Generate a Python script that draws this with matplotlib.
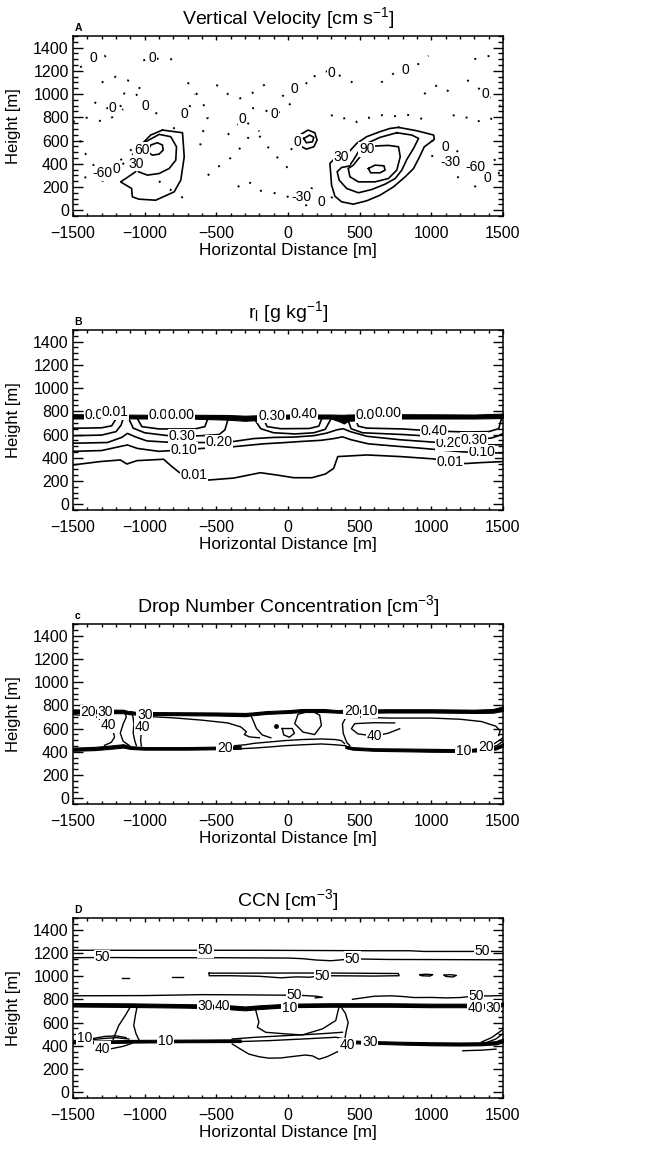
import numpy as np
import matplotlib.pyplot as plt
from matplotlib.ticker import MultipleLocator

plt.rcParams['font.family'] = ['Liberation Sans', 'DejaVu Sans']
plt.rcParams['mathtext.fontset'] = 'custom'
plt.rcParams['mathtext.rm'] = 'Liberation Sans'
plt.rcParams['mathtext.it'] = 'Liberation Sans:italic'

# ---------------- A: vertical velocity [cm/s], contour lines (x [m], z [m]) ----------------
wA_left30_x = [-876, -736, -724, -748, -794, -923, -1040, -1086, -1091, -1168, -1121, -1063, -1058, -1051, -1016, -958, -876]
wA_left30_z = [690, 667, 460, 259, 158, 86, 95, 115, 187, 244, 282, 331, 400, 460, 575, 647, 690]
wA_left60_x = [-993, -899, -818, -778, -783, -829, -899, -981, -1044, -1040, -1030, -1021, -993]
wA_left60_z = [589, 653, 633, 546, 431, 359, 316, 302, 331, 431, 480, 518, 589]
wA_left90_x = [-981, -958, -911, -876, -871, -899, -946, -981]
wA_left90_z = [503, 561, 581, 561, 518, 483, 474, 503]

wA_right30_x = [771, 899, 1016, 1021, 951, 918, 876, 818, 736, 642, 549, 456, 374, 327, 304, 297, 292, 327, 374, 420, 479, 549, 642, 712, 771]
wA_right30_z = [713, 684, 647, 610, 546, 460, 359, 288, 201, 129, 81, 52, 72, 121, 216, 331, 403, 446, 454, 495, 575, 633, 676, 704, 713]
wA_right60_x = [759, 864, 911, 876, 829, 794, 748, 677, 584, 491, 409, 357, 343, 374, 427, 456, 491, 549, 642, 759]
wA_right60_z = [667, 647, 618, 532, 437, 345, 273, 224, 178, 150, 187, 259, 331, 368, 380, 431, 503, 575, 627, 667]
wA_right90_x = [596, 701, 771, 783, 759, 701, 607, 491, 432, 420, 456, 502, 549, 596]
wA_right90_z = [552, 558, 546, 460, 345, 273, 244, 244, 288, 359, 388, 460, 523, 552]
wA_right120_x = [561, 607, 670, 677, 642, 577, 561]
wA_right120_z = [359, 388, 382, 345, 322, 322, 359]

wA_mid30_x = [70, 93, 140, 187, 203, 180, 128, 82, 70]
wA_mid30_z = [604, 656, 690, 667, 604, 546, 526, 555, 604]
wA_mid60_x = [110, 152, 180, 171, 128, 110]
wA_mid60_z = [618, 647, 627, 589, 581, 618]

# zero / negative contours (dotted): (x, z, level, label index or None)
wA_dotted = [
    ([-1450, -1355, -1280, -1220], [1230, 1308, 1330, 1260], 0, 1),
    ([-1010, -946, -880, -820, -760], [1290, 1308, 1300, 1300, 1300], 0, 1),
    ([-1350, -1290, -1226, -1160, -1130], [930, 880, 877, 900, 1080], 0, 2),
    ([-1060, -1030, -993, -950, -900], [1000, 950, 897, 860, 820], 0, 2),
    ([-800, -760, -724, -690, -650], [700, 760, 825, 880, 1000], 0, 2),
    ([-420, -360, -315, -260, -200], [650, 720, 782, 730, 680], 0, 2),
    ([-250, -160, -93, -40, 20], [880, 860, 825, 860, 920], 0, 2),
    ([-40, 10, 47, 100, 150], [980, 1030, 1041, 1060, 1120], 0, 2),
    ([180, 250, 304, 380, 450], [1150, 1200, 1185, 1150, 1100], 0, 2),
    ([650, 740, 818, 900, 980], [1100, 1180, 1208, 1250, 1330], 0, 2),
    ([1250, 1320, 1378, 1430, 1480], [1120, 1060, 998, 950, 900], 0, 2),
    ([1000, 1060, 1098, 1150, 1200], [600, 570, 546, 520, 500], 0, 2),
    ([120, 180, 234, 300, 330], [40, 60, 72, 100, 150], 0, 2),
    ([1300, 1350, 1390, 1440, 1490], [200, 240, 273, 300, 330], 0, 2),
    ([20, 45, 65, 90], [520, 560, 590, 640], 0, 2),
    ([-1300, -1260, -1238, -1195, -1130, -1050, -1000], [250, 270, 302, 355, 420, 520, 600], 0, 3),
    ([-1420, -1360, -1297, -1250, -1200, -1140, -1080], [280, 300, 316, 350, 400, 460, 540], -60, 2),
    ([-100, -30, 40, 93, 150, 200], [150, 120, 110, 115, 170, 230], -30, 3),
    ([1000, 1060, 1133, 1200, 1280], [470, 440, 417, 400, 380], -30, 2),
    ([1180, 1250, 1308, 1380, 1460, 1500], [280, 330, 374, 410, 440, 460], -60, 2),
    ([-1500, -1420, -1350, -1280, -1200, -1150], [760, 800, 780, 760, 820, 870], 0, None),
    ([-1300, -1200, -1120, -1050, -980], [1100, 1150, 1120, 1060, 1020], 0, None),
    ([-700, -650, -600, -560, -600, -620], [1100, 1020, 950, 800, 650, 500], 0, None),
    ([-560, -480, -400, -330, -280, -230], [300, 380, 450, 540, 620, 700], 0, None),
    ([-500, -420, -340, -260, -200, -140], [1080, 1000, 960, 1000, 1050, 1100], 0, None),
    ([-200, -150, -100, -40, 0, 40], [640, 560, 480, 420, 360, 300], 0, None),
    ([300, 360, 420, 480, 540, 600, 660, 720, 800, 880, 950], [820, 780, 800, 760, 800, 790, 820, 800, 830, 810, 780], 0, None),
    ([1150, 1200, 1260, 1320, 1380, 1440, 1500], [820, 790, 800, 760, 800, 780, 740], 0, None),
    ([1300, 1350, 1420, 1480], [1300, 1320, 1330, 1300], 0, None),
    ([950, 1000, 1050, 1100, 1150], [1000, 1050, 1080, 1040, 1000], 0, None),
    ([-900, -850, -800, -750, -700], [250, 200, 160, 120, 80], 0, None),
    ([-1450, -1420, -1380, -1330], [600, 500, 420, 350], 0, None),
    ([-350, -300, -250, -200, -150], [200, 250, 230, 180, 120], 0, None),
]

# ---------------- B: liquid water mixing ratio [g/kg] ----------------
rB_band_x = [-1500, -1200, -1000, -700, -420, -300, -200, 0, 300, 360, 390, 420, 700, 1000, 1300, 1500]
rB_band_top = [775, 772, 770, 770, 768, 762, 766, 772, 772, 770, 770, 772, 775, 774, 772, 780]
rB_band_bot = [738, 740, 738, 738, 728, 718, 726, 738, 738, 712, 695, 718, 738, 738, 738, 742]

rB_001_x = [-1500, -1310, -1170, -1124, -1054, -868, -809, -756, -658, -554, -379, -193, -77, 40, 167, 261, 319, 347, 551, 784, 1016, 1133, 1237, 1342, 1500]
rB_001_z = [338, 367, 381, 346, 375, 387, 323, 271, 251, 208, 225, 271, 251, 228, 228, 260, 309, 410, 424, 410, 390, 367, 350, 358, 367]
rB_010_x = [-1500, -1300, -1160, -1120, -1050, -900, -728, -600, -380, -170, -30, 90, 230, 320, 380, 440, 560, 700, 900, 1226, 1350, 1500]
rB_010_z = [455, 462, 500, 510, 480, 455, 468, 480, 495, 520, 530, 540, 550, 565, 580, 555, 520, 505, 485, 450, 446, 440]
rB_020_x = [-1500, -1260, -1160, -1120, -1065, -985, -800, -589, -480, -380, -240, -100, 40, 180, 270, 340, 385, 435, 550, 780, 1121, 1300, 1420, 1500]
rB_020_z = [525, 531, 575, 610, 580, 545, 531, 531, 535, 540, 565, 575, 578, 590, 612, 640, 650, 625, 585, 555, 525, 510, 511, 512]
rB_030 = [
    ([-1500, -1300, -1200, -1165, -1150], [590, 595, 625, 680, 735], None),
    ([-1110, -1080, -1000, -850, -740, -600, -480, -440, -420], [735, 655, 615, 592, 585, 590, 600, 640, 725], 4),
    ([-230, -190, -100, 50, 180, 260, 300], [725, 650, 615, 605, 615, 645, 735], None),
    ([420, 440, 520, 800, 1000, 1156, 1300, 1420, 1470, 1500], [720, 650, 615, 600, 585, 560, 556, 570, 590, 610], 6),
]
rB_040 = [
    ([-1500, -1420, -1300, -1230, -1200], [655, 655, 658, 675, 735], None),
    ([-1050, -1020, -900, -650, -580, -560], [735, 668, 648, 648, 668, 735], None),
    ([-170, -145, -50, 150, 215, 235], [730, 668, 650, 652, 672, 735], None),
    ([470, 490, 550, 800, 1016, 1250, 1400, 1470, 1490], [735, 672, 655, 648, 630, 622, 625, 650, 738], 4),
]
# labels crowded along the cloud-top band
rB_top_labels = ['0.0', '0.01', '0.0', '0.00', '0.30', '0.40', '0.0', '0.00']
rB_top_label_x = [-1355, -1210, -905, -750, -115, 110, 540, 700]
rB_top_label_z = [765, 790, 765, 768, 762, 775, 765, 782]

# ---------------- C: drop number concentration [cm^-3] ----------------
nC_band_x = [-1500, -1400, -1150, -1100, -1000, -500, -300, -250, -150, 0, 100, 250, 350, 400, 700, 1000, 1300, 1430, 1500]
nC_band_top = [765, 762, 762, 745, 742, 738, 734, 738, 750, 758, 768, 768, 758, 762, 766, 766, 762, 768, 790]
nC_band_bot = [735, 732, 732, 722, 718, 712, 706, 714, 726, 734, 742, 742, 736, 734, 738, 738, 734, 736, 752]
nC_base_lx = [-1500, -1350, -1250, -1150, -1100, -1000, -700, -450, -330]
nC_base_ltop = [435, 442, 452, 465, 448, 440, 440, 445, 450]
nC_base_lbot = [408, 414, 424, 436, 424, 418, 418, 422, 426]
nC_base_rx = [400, 450, 600, 800, 1000, 1200, 1350, 1450, 1500]
nC_base_rtop = [455, 440, 430, 428, 425, 422, 428, 445, 472]
nC_base_rbot = [432, 418, 408, 404, 400, 398, 404, 420, 445]

nC_lines = [
    ([-1500, -1420, -1337, -1303, -1256, -1221, -1210, -1233, -1280], [720, 712, 700, 671, 627, 583, 525, 481, 455], 40, 4),
    ([-1140, -1128, -1150, -1170, -1150, -1105], [740, 700, 640, 560, 490, 452], 30, None),
    ([-1090, -1082, -1075, -1080, -1070, -1058], [745, 700, 640, 560, 500, 452], 30, None),
    ([-1100, -1040, -1000, -975], [745, 730, 715, 705], 30, 2),
    ([-945, -975, -1015, -1023, -1028, -1023], [700, 656, 610, 583, 496, 450], 40, 2),
    ([-1000, -800, -600, -420, -330, -290, -305, -270, -200], [705, 692, 672, 648, 614, 572, 548, 528, 520], 40, None),
    ([-260, -240, -220, -180, -120], [715, 660, 600, 545, 520], 30, None),
    ([-372, -300, -233, -120, -23, 100, 233, 330, 372, 395], [452, 460, 473, 485, 496, 505, 510, 505, 496, 470], 30, None),
    ([-442, -372, -300, -233, -120, -23, 100, 233, 330, 400], [432, 423, 428, 432, 442, 452, 460, 467, 460, 452], 20, 0),
    ([163, 70, 47, 105, 186, 233, 221, 163], [753, 723, 642, 569, 548, 627, 715, 753], 40, None),
    ([-40, -30, 10, 45, 30, -40], [600, 545, 525, 560, 600, 600], 40, None),
    ([395, 405, 380, 385, 410, 430], [735, 700, 640, 560, 480, 455], 30, None),
    ([744, 600, 465, 442, 488, 605, 700, 779], [648, 650, 642, 598, 554, 534, 560, 598], 40, 5),
    ([480, 700, 1000, 1200, 1350, 1450, 1480, 1470], [700, 690, 690, 680, 660, 620, 580, 540], 30, None),
    ([1300, 1380, 1440, 1500], [420, 440, 470, 520], 20, 1),
    ([1330, 1400, 1460, 1500], [415, 430, 455, 490], 10, None),
]
nC_speck_x = [-81]
nC_speck_z = [621]
nC_top_labels = ['20', '30', '20', '10', '10']
nC_top_label_x = [-1395, -1275, 445, 570, 1225]
nC_top_label_z = [740, 745, 750, 752, 408]

# ---------------- D: CCN [cm^-3] ----------------
cD_band_x = [-1500, -1100, -700, -450, -300, -200, 0, 300, 700, 1000, 1250, 1350, 1500]
cD_band_top = [768, 765, 758, 752, 738, 748, 762, 766, 766, 762, 762, 756, 772]
cD_band_bot = [738, 734, 728, 718, 705, 716, 732, 736, 736, 732, 732, 724, 740]
cD_base_lx = [-1500, -1300, -1100, -800, -400, -330]
cD_base_ltop = [442, 445, 450, 452, 455, 454]
cD_base_lbot = [420, 422, 427, 430, 432, 432]
cD_base_rx = [420, 600, 800, 1000, 1200, 1350, 1450, 1500]
cD_base_rtop = [446, 440, 434, 430, 428, 430, 440, 460]
cD_base_rbot = [422, 417, 410, 404, 402, 404, 412, 428]

cD_lines = [
    ([-1500, -900, -575, -200, 200, 600, 850, 950, 1358, 1500], [1222, 1222, 1222, 1222, 1220, 1218, 1218, 1212, 1212, 1212], 50, [2, 8]),
    ([-1500, -1298, -1000, -500, 0, 100, 200, 300, 450, 700, 1000, 1500], [1158, 1160, 1158, 1158, 1155, 1150, 1138, 1132, 1148, 1143, 1142, 1140], 50, [1, 8]),
    ([-550, -300, 0, 300, 770, 775, 600, 400, 240, 150, 60, -50, -200, -400, -550, -550],
     [1025, 1025, 1026, 1026, 1022, 1003, 1000, 1002, 1003, 990, 993, 985, 998, 1003, 1003, 1025], 50, [8]),
    ([-1160, -1110], [980, 980], 50, []),
    ([-810, -730], [995, 995], 50, []),
    ([920, 960, 1010, 990, 930, 920], [1012, 1016, 1012, 1000, 1003, 1012], 50, []),
    ([1090, 1130, 1175, 1150, 1100, 1090], [1008, 1012, 1006, 992, 997, 1008], 50, []),
    ([-1500, -1000, -600, -300, -100, 42, 120, 200, 240, 190], [830, 832, 840, 838, 836, 835, 832, 826, 818, 812], 50, [5]),
    ([450, 520, 600, 720, 800, 880, 1000, 1100, 1200, 1312, 1400, 1500], [800, 812, 826, 830, 824, 815, 816, 812, 815, 829, 829, 832], 50, [9]),
    ([-1100, -1135, -1181, -1205, -1220], [735, 661, 574, 502, 455], 30, []),
    ([-1053, -1065, -1076, -1060, -1040], [735, 661, 574, 502, 452], 30, []),
    ([-1130, -1200, -1280, -1360, -1420], [470, 485, 480, 462, 450], 30, []),
    ([-1110, -1200, -1290, -1370], [458, 470, 462, 452], 30, []),
    ([-1330, -1250, -1150, -1090], [355, 370, 395, 420], 40, []),
    ([-226, -203, -214, -156, -16, 100, 240, 333, 356], [710, 603, 560, 516, 502, 493, 545, 617, 735], 20, []),
    ([-389, -226, -16, 217, 380], [458, 473, 487, 502, 516], 20, []),
    ([-366, -133, 100, 333, 403], [435, 444, 458, 473, 458], 30, []),
    ([-389, -330, -273, -200, -133, -50, 30, 120, 170, 217, 275, 345], [415, 370, 328, 305, 293, 295, 307, 320, 313, 284, 307, 348], 40, []),
    ([370, 400, 420, 405, 395], [735, 680, 600, 520, 446], 30, []),
    ([1350, 1420, 1500], [432, 470, 540], 30, []),
    ([1380, 1450, 1500], [425, 458, 505], 40, []),
    ([1220, 1350, 1451], [357, 362, 371], 40, []),
]
cD_band_labels = ['30', '40', '10', '40', '30', '10', '40', '30', '10', '40']
cD_band_label_x = [-580, -460, 10, 1310, 1430, -855, 415, 570, -1420, -1295]
cD_band_label_z = [745, 745, 728, 725, 725, 440, 405, 432, 470, 372]

LW = 1.2


def setup(ax, title, letter):
    ax.set_xlim(-1500, 1500)
    ax.set_ylim(-50, 1500)
    ax.xaxis.set_major_locator(MultipleLocator(500))
    ax.xaxis.set_minor_locator(MultipleLocator(100))
    ax.yaxis.set_major_locator(MultipleLocator(200))
    ax.yaxis.set_minor_locator(MultipleLocator(50))
    ax.tick_params(which='both', direction='in', top=True, right=True, width=1.0)
    ax.tick_params(axis='x', which='major', length=3.2, pad=7)
    ax.tick_params(axis='x', which='minor', length=2.0)
    ax.tick_params(axis='y', which='major', length=7.0, pad=3)
    ax.tick_params(axis='y', which='minor', length=3.5)
    ax.tick_params(which='major', labelsize=11.5)
    for s in ax.spines.values():
        s.set_linewidth(1.1)
    ax.set_xlabel('Horizontal Distance [m]', fontsize=12.3, labelpad=2)
    ax.set_ylabel('Height [m]', fontsize=12)
    ax.yaxis.set_label_coords(-0.12, 0.5)
    ax.text(0.5, 1.098, title, transform=ax.transAxes, ha='center', va='center', fontsize=14)
    ax.text(0.004, 1.045, letter, transform=ax.transAxes, ha='left', va='center',
            fontsize=7.5, fontweight='bold')


def clab(ax, x, z, text, fs=10):
    ax.text(x, z, text, ha='center', va='center', fontsize=fs, zorder=5,
            bbox=dict(boxstyle='square,pad=0.04', fc='white', ec='none'))


def fmt(v):
    return '%d' % v if float(v).is_integer() else '%.2f' % v


def line(ax, xs, zs, level, idx=None, ls='-', lw=LW):
    ax.plot(xs, zs, color='black', lw=lw, ls=ls, zorder=3)
    if idx is None:
        return
    for i in np.atleast_1d(idx):
        clab(ax, xs[i], zs[i], fmt(level))


def band(ax, xs, top, bot):
    ax.fill_between(xs, bot, top, color='black', lw=0.8, zorder=3)


fig = plt.figure(figsize=(6.51, 11.52), dpi=100)
left, width, height = 73 / 651, 430 / 651, 180 / 1152
bottoms = [1 - 216 / 1152, 1 - 510 / 1152, 1 - 804 / 1152, 1 - 1098 / 1152]
axA, axB, axC, axD = [fig.add_axes([left, b, width, height]) for b in bottoms]

# A
setup(axA, r'Vertical Velocity [cm s$^{-1}$]', 'A')
line(axA, wA_left30_x, wA_left30_z, 30, 12)
line(axA, wA_left60_x, wA_left60_z, 60, 11)
line(axA, wA_left90_x, wA_left90_z, 90)
line(axA, wA_right30_x, wA_right30_z, 30, 18)
line(axA, wA_right60_x, wA_right60_z, 60)
line(axA, wA_right90_x, wA_right90_z, 90, 12)
line(axA, wA_right120_x, wA_right120_z, 120)
line(axA, wA_mid30_x, wA_mid30_z, 30)
line(axA, wA_mid60_x, wA_mid60_z, 60)
for xs, zs, lev, idx in wA_dotted:
    line(axA, xs, zs, lev, idx, ls=(0, (1.0, 6.0)), lw=1.4)

# B
setup(axB, r'r$_\mathregular{l}$ [g kg$^{-1}$]', 'B')
band(axB, rB_band_x, rB_band_top, rB_band_bot)
line(axB, rB_001_x, rB_001_z, 0.01, [8, 21])
line(axB, rB_010_x, rB_010_z, 0.10, [6, 20])
line(axB, rB_020_x, rB_020_z, 0.20, [8, 20])
for xs, zs, idx in rB_030:
    line(axB, xs, zs, 0.30, idx)
for xs, zs, idx in rB_040:
    line(axB, xs, zs, 0.40, idx)
for t, x, z in zip(rB_top_labels, rB_top_label_x, rB_top_label_z):
    clab(axB, x, z, t)

# C
setup(axC, r'Drop Number Concentration [cm$^{-3}$]', 'c')
band(axC, nC_band_x, nC_band_top, nC_band_bot)
band(axC, nC_base_lx, nC_base_ltop, nC_base_lbot)
band(axC, nC_base_rx, nC_base_rtop, nC_base_rbot)
for xs, zs, lev, idx in nC_lines:
    line(axC, xs, zs, lev, idx, lw=1.0)
axC.plot(nC_speck_x, nC_speck_z, 'o', color='black', ms=2.5)
for t, x, z in zip(nC_top_labels, nC_top_label_x, nC_top_label_z):
    clab(axC, x, z, t)

# D
setup(axD, r'CCN [cm$^{-3}$]', 'D')
band(axD, cD_band_x, cD_band_top, cD_band_bot)
band(axD, cD_base_lx, cD_base_ltop, cD_base_lbot)
band(axD, cD_base_rx, cD_base_rtop, cD_base_rbot)
for xs, zs, lev, idx in cD_lines:
    line(axD, xs, zs, lev, idx if idx else None, lw=1.0)
for t, x, z in zip(cD_band_labels, cD_band_label_x, cD_band_label_z):
    clab(axD, x, z, t)

fig.savefig('out.png', dpi=100)
